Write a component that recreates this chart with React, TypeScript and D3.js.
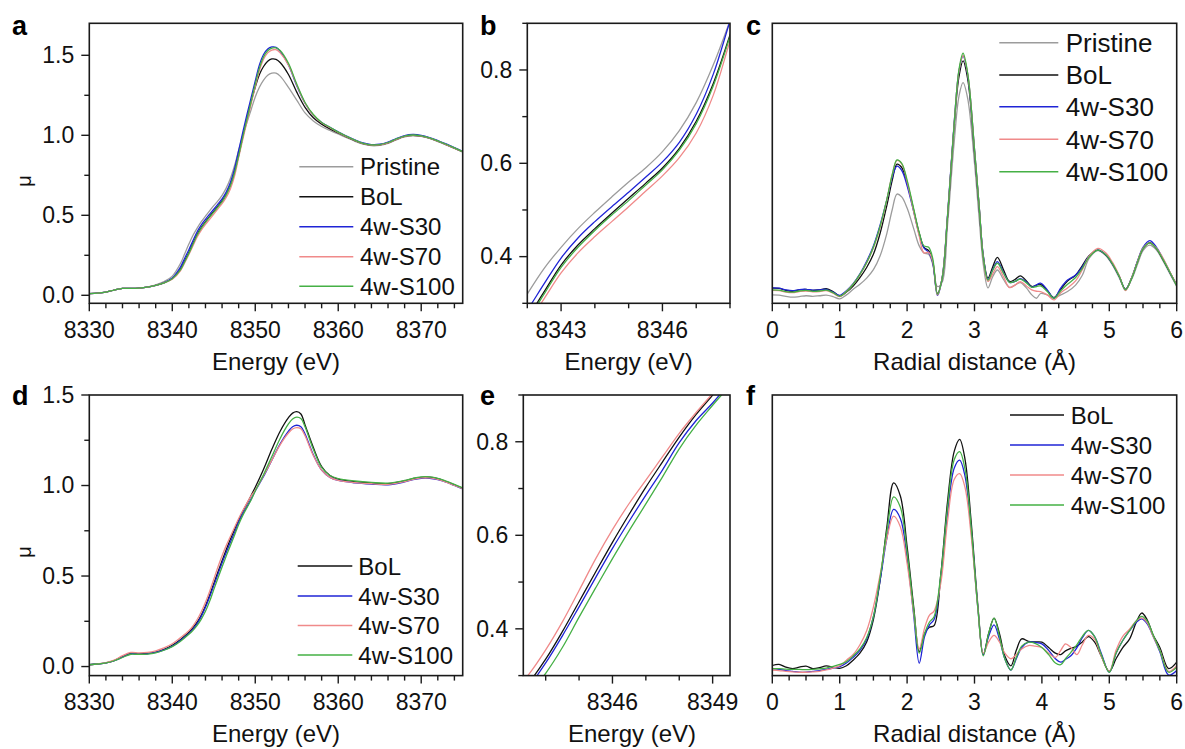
import React from 'react';
import * as d3 from 'd3';

// ---------- Series names & colours ----------
const NAMES = ['Pristine', 'BoL', '4w-S30', '4w-S70', '4w-S100'];
const COLORS: Record<string, string> = {
  'Pristine': '#9c9c9c',
  'BoL': '#111111',
  '4w-S30': '#1f24d6',
  '4w-S70': '#f08a8a',
  '4w-S100': '#45b045',
};

// ---------- Panel a / b : XANES (first set) ----------
const E_A = [8330, 8331, 8332, 8333, 8334, 8335, 8336, 8337, 8338, 8339, 8340, 8341,
  8341.5, 8342, 8342.5, 8343, 8343.5, 8344, 8344.5, 8345, 8345.5, 8346, 8346.5, 8347, 8347.5, 8348,
  8348.5, 8349, 8349.5, 8350, 8350.5, 8351, 8351.5, 8352, 8352.5, 8353,
  8354, 8355, 8356, 8357, 8358, 8359, 8360, 8361, 8362, 8363, 8364, 8365, 8366, 8367, 8368, 8369,
  8370, 8371, 8372, 8373, 8374, 8375];
const A_PRISTINE = [0.010, 0.013, 0.020, 0.033, 0.043, 0.043, 0.045, 0.052, 0.065, 0.085, 0.12, 0.2,
  0.26, 0.32, 0.375, 0.42, 0.46, 0.495, 0.528, 0.56, 0.59, 0.625, 0.67, 0.73, 0.81, 0.905,
  1.0, 1.08, 1.16, 1.24, 1.3, 1.345, 1.375, 1.388, 1.388, 1.37,
  1.3, 1.22, 1.14, 1.09, 1.055, 1.03, 1.008, 0.985, 0.963, 0.945, 0.935, 0.937, 0.95, 0.972, 0.99, 0.997,
  0.993, 0.98, 0.961, 0.94, 0.918, 0.895];
const A_BOL = [0.010, 0.013, 0.020, 0.033, 0.043, 0.043, 0.045, 0.051, 0.062, 0.078, 0.105, 0.165,
  0.215, 0.268, 0.325, 0.382, 0.425, 0.46, 0.493, 0.525, 0.557, 0.59, 0.632, 0.69, 0.77, 0.875,
  0.99, 1.1, 1.21, 1.3, 1.38, 1.43, 1.463, 1.477, 1.475, 1.455,
  1.38, 1.27, 1.175, 1.11, 1.07, 1.04, 1.015, 0.99, 0.967, 0.948, 0.938, 0.94, 0.953, 0.975, 0.993, 1.0,
  0.995, 0.982, 0.963, 0.942, 0.92, 0.897];
const A_S30 = [0.010, 0.013, 0.020, 0.033, 0.043, 0.043, 0.045, 0.051, 0.062, 0.079, 0.108, 0.178,
  0.232, 0.285, 0.342, 0.397, 0.44, 0.475, 0.507, 0.538, 0.57, 0.603, 0.645, 0.705, 0.79, 0.905,
  1.02, 1.13, 1.235, 1.34, 1.44, 1.505, 1.54, 1.552, 1.55, 1.525,
  1.44, 1.31, 1.2, 1.125, 1.08, 1.05, 1.022, 0.995, 0.972, 0.952, 0.942, 0.944, 0.958, 0.98, 0.998, 1.005,
  1.0, 0.986, 0.967, 0.946, 0.923, 0.9];
const A_S70 = [0.010, 0.013, 0.020, 0.033, 0.043, 0.043, 0.045, 0.051, 0.062, 0.077, 0.1, 0.155,
  0.203, 0.255, 0.31, 0.365, 0.408, 0.443, 0.475, 0.507, 0.54, 0.573, 0.612, 0.665, 0.745, 0.862,
  0.975, 1.085, 1.195, 1.305, 1.405, 1.475, 1.515, 1.533, 1.535, 1.515,
  1.44, 1.315, 1.2, 1.125, 1.078, 1.048, 1.018, 0.992, 0.968, 0.948, 0.938, 0.94, 0.953, 0.975, 0.993, 1.0,
  0.995, 0.982, 0.963, 0.942, 0.92, 0.897];
const A_S100 = [0.010, 0.013, 0.020, 0.033, 0.043, 0.043, 0.045, 0.051, 0.062, 0.077, 0.103, 0.16,
  0.21, 0.262, 0.32, 0.377, 0.42, 0.456, 0.489, 0.52, 0.553, 0.586, 0.628, 0.685, 0.765, 0.872,
  0.99, 1.1, 1.21, 1.32, 1.42, 1.49, 1.528, 1.545, 1.547, 1.53,
  1.45, 1.32, 1.205, 1.13, 1.08, 1.05, 1.02, 0.994, 0.97, 0.95, 0.94, 0.942, 0.955, 0.977, 0.995, 1.002,
  0.997, 0.984, 0.965, 0.944, 0.921, 0.898];

// ---------- Panel d / e : XANES (second set) ----------
const E_D = [8330, 8331, 8332, 8333, 8334, 8335, 8336, 8337, 8338, 8339, 8340, 8341, 8342,
  8342.5, 8343, 8343.5, 8344, 8344.5, 8345, 8345.5, 8346, 8346.5, 8347, 8347.5, 8348, 8348.5, 8349, 8349.5, 8350,
  8351, 8352, 8353, 8354, 8354.5, 8355, 8355.5,
  8356, 8357, 8358, 8359, 8360, 8362, 8364, 8366, 8368,
  8369, 8370, 8371, 8372, 8373, 8374, 8375];
const D_BOL = [0.01, 0.014, 0.02, 0.033, 0.055, 0.072, 0.07, 0.072, 0.08, 0.095, 0.118, 0.15, 0.19,
  0.215, 0.245, 0.285, 0.335, 0.394, 0.458, 0.522, 0.585, 0.645, 0.703, 0.757, 0.81, 0.858, 0.9, 0.945, 0.99,
  1.09, 1.2, 1.3, 1.375, 1.4, 1.408, 1.395,
  1.335, 1.21, 1.105, 1.055, 1.035, 1.022, 1.014, 1.01, 1.025,
  1.038, 1.045, 1.046, 1.038, 1.022, 1.004, 0.985];
const D_S30 = [0.01, 0.014, 0.02, 0.032, 0.052, 0.07, 0.068, 0.07, 0.078, 0.092, 0.113, 0.145, 0.183,
  0.207, 0.237, 0.277, 0.327, 0.385, 0.447, 0.51, 0.572, 0.63, 0.686, 0.74, 0.798, 0.845, 0.883, 0.925, 0.97,
  1.05, 1.14, 1.23, 1.3, 1.325, 1.333, 1.325,
  1.285, 1.17, 1.085, 1.045, 1.028, 1.015, 1.008, 1.004, 1.02,
  1.032, 1.04, 1.04, 1.032, 1.018, 1.0, 0.982];
const D_S70 = [0.01, 0.015, 0.022, 0.036, 0.06, 0.078, 0.076, 0.078, 0.087, 0.103, 0.126, 0.16, 0.198,
  0.225, 0.26, 0.303, 0.355, 0.415, 0.482, 0.55, 0.612, 0.668, 0.718, 0.768, 0.818, 0.862, 0.903, 0.943, 0.975,
  1.055, 1.14, 1.225, 1.29, 1.312, 1.32, 1.313,
  1.275, 1.165, 1.085, 1.045, 1.028, 1.016, 1.01, 1.006, 1.022,
  1.034, 1.042, 1.042, 1.034, 1.019, 1.0, 0.983];
const D_S100 = [0.01, 0.014, 0.02, 0.032, 0.05, 0.068, 0.067, 0.069, 0.076, 0.09, 0.11, 0.14, 0.178,
  0.2, 0.227, 0.262, 0.305, 0.36, 0.425, 0.488, 0.55, 0.61, 0.667, 0.725, 0.785, 0.835, 0.878, 0.92, 0.97,
  1.06, 1.16, 1.26, 1.34, 1.368, 1.378, 1.37,
  1.325, 1.2, 1.1, 1.055, 1.038, 1.025, 1.017, 1.013, 1.028,
  1.04, 1.048, 1.048, 1.04, 1.024, 1.006, 0.987];

// ---------- Panel c : FT-EXAFS (first set, relative magnitude) ----------
const R_C = [0, 0.1, 0.2, 0.3, 0.4, 0.5, 0.6, 0.7, 0.8, 0.9, 1.0,
  1.1, 1.2, 1.3, 1.4, 1.5, 1.6, 1.7,
  1.78, 1.85, 1.92, 2.0, 2.1, 2.18, 2.25, 2.32, 2.38, 2.45,
  2.52, 2.6, 2.7, 2.77, 2.83, 2.9, 3.0,
  3.07, 3.13, 3.2, 3.27, 3.34, 3.43, 3.52, 3.6, 3.68, 3.77, 3.85, 3.92, 3.98,
  4.08, 4.18, 4.28, 4.38, 4.5, 4.6, 4.7, 4.83, 4.95,
  5.05, 5.15, 5.24, 5.33, 5.42, 5.5, 5.6, 5.7, 5.8, 5.9, 6.0];
const C_PRISTINE = [0.03, 0.029, 0.025, 0.022, 0.024, 0.027, 0.025, 0.027, 0.029, 0.024, 0.016,
  0.03, 0.05, 0.068, 0.09, 0.12, 0.17, 0.25,
  0.335, 0.39, 0.38, 0.34, 0.265, 0.205, 0.18, 0.175, 0.14, 0.06,
  0.075, 0.28, 0.58, 0.74, 0.788, 0.73, 0.5,
  0.3, 0.14, 0.055, 0.095, 0.119, 0.085, 0.057, 0.065, 0.074, 0.055, 0.03, 0.018, 0.035,
  0.03, 0.02, 0.03, 0.042, 0.065, 0.1, 0.16, 0.188, 0.17,
  0.135, 0.09, 0.05, 0.085, 0.14, 0.188, 0.208, 0.19, 0.15, 0.105, 0.06];
const C_BOL = [0.054, 0.053, 0.046, 0.043, 0.048, 0.05, 0.046, 0.048, 0.052, 0.042, 0.026,
  0.04, 0.062, 0.092, 0.128, 0.175, 0.25, 0.35,
  0.44, 0.497, 0.485, 0.43, 0.33, 0.25, 0.2, 0.188, 0.15, 0.035,
  0.09, 0.31, 0.64, 0.81, 0.866, 0.8, 0.54,
  0.34, 0.17, 0.09, 0.13, 0.164, 0.12, 0.078, 0.085, 0.098, 0.08, 0.06, 0.065, 0.068,
  0.045, 0.02, 0.05, 0.08, 0.1, 0.135, 0.17, 0.19, 0.172,
  0.14, 0.095, 0.05, 0.09, 0.15, 0.195, 0.217, 0.195, 0.155, 0.11, 0.065];
const C_S30 = [0.055, 0.054, 0.048, 0.045, 0.049, 0.05, 0.047, 0.048, 0.05, 0.04, 0.028,
  0.045, 0.07, 0.105, 0.15, 0.205, 0.28, 0.37,
  0.45, 0.49, 0.475, 0.42, 0.325, 0.245, 0.198, 0.182, 0.145, 0.028,
  0.09, 0.315, 0.65, 0.83, 0.883, 0.815, 0.55,
  0.345, 0.17, 0.085, 0.12, 0.149, 0.11, 0.075, 0.078, 0.088, 0.076, 0.058, 0.066, 0.072,
  0.048, 0.018, 0.055, 0.083, 0.101, 0.13, 0.168, 0.19, 0.173,
  0.14, 0.095, 0.048, 0.09, 0.152, 0.2, 0.224, 0.2, 0.158, 0.11, 0.065];
const C_S70 = [0.046, 0.045, 0.04, 0.038, 0.042, 0.044, 0.041, 0.042, 0.045, 0.036, 0.024,
  0.042, 0.068, 0.102, 0.145, 0.198, 0.272, 0.37,
  0.46, 0.51, 0.498, 0.435, 0.325, 0.24, 0.18, 0.182, 0.15, 0.03,
  0.09, 0.31, 0.645, 0.83, 0.885, 0.818, 0.55,
  0.345, 0.165, 0.078, 0.105, 0.131, 0.095, 0.056, 0.065, 0.077, 0.062, 0.048, 0.043, 0.042,
  0.03, 0.012, 0.038, 0.055, 0.08, 0.12, 0.168, 0.196, 0.18,
  0.145, 0.097, 0.045, 0.09, 0.15, 0.197, 0.215, 0.197, 0.16, 0.112, 0.065];
const C_S100 = [0.048, 0.047, 0.042, 0.04, 0.044, 0.046, 0.043, 0.044, 0.047, 0.038, 0.025,
  0.042, 0.068, 0.103, 0.145, 0.2, 0.275, 0.372,
  0.46, 0.512, 0.5, 0.44, 0.335, 0.252, 0.205, 0.2, 0.16, 0.033,
  0.088, 0.31, 0.645, 0.835, 0.893, 0.82, 0.55,
  0.345, 0.165, 0.083, 0.118, 0.143, 0.108, 0.075, 0.078, 0.086, 0.073, 0.057, 0.06, 0.062,
  0.042, 0.018, 0.045, 0.068, 0.092, 0.125, 0.165, 0.19, 0.173,
  0.14, 0.095, 0.048, 0.088, 0.148, 0.195, 0.215, 0.195, 0.155, 0.11, 0.062];

// ---------- Panel f : FT-EXAFS (second set, relative magnitude) ----------
const R_F = [0, 0.1, 0.2, 0.3, 0.4, 0.5, 0.6, 0.7, 0.8, 0.9, 1.0,
  1.1, 1.2, 1.3, 1.4, 1.5, 1.6, 1.7,
  1.8, 1.9, 2.0, 2.1, 2.18, 2.26, 2.33, 2.4, 2.5, 2.6,
  2.7, 2.78, 2.86, 2.95, 3.05, 3.13, 3.21, 3.29, 3.37, 3.45,
  3.54, 3.62, 3.7, 3.8, 3.9, 4.0, 4.1, 4.2, 4.28, 4.35,
  4.43, 4.52, 4.6, 4.69, 4.78, 4.88, 5.0, 5.1, 5.2, 5.3,
  5.4, 5.48, 5.56, 5.65, 5.75, 5.88, 6.0];
const F_BOL = [0.036, 0.04, 0.03, 0.025, 0.03, 0.034, 0.025, 0.028, 0.035, 0.03, 0.026,
  0.035, 0.055, 0.08, 0.12, 0.2, 0.34, 0.53,
  0.687, 0.64, 0.46, 0.24, 0.085, 0.15, 0.172, 0.178, 0.36, 0.62,
  0.8, 0.842, 0.77, 0.55, 0.25, 0.075, 0.15, 0.205, 0.15, 0.07,
  0.035, 0.09, 0.131, 0.122, 0.12, 0.119, 0.1, 0.08, 0.075, 0.088,
  0.097, 0.105, 0.12, 0.139, 0.12, 0.07, 0.015, 0.06, 0.1, 0.13,
  0.19, 0.223, 0.2, 0.145, 0.1, 0.025, 0.048];
const F_S30 = [0.025, 0.022, 0.018, 0.015, 0.012, 0.012, 0.015, 0.018, 0.022, 0.027, 0.032,
  0.045, 0.065, 0.09, 0.13, 0.21, 0.34, 0.49,
  0.592, 0.56, 0.42, 0.21, 0.044, 0.14, 0.18, 0.2, 0.35, 0.58,
  0.74, 0.768, 0.71, 0.52, 0.24, 0.075, 0.14, 0.181, 0.13, 0.06,
  0.02, 0.06, 0.1, 0.119, 0.118, 0.113, 0.09, 0.06, 0.048, 0.058,
  0.071, 0.1, 0.135, 0.161, 0.14, 0.08, 0.012, 0.08, 0.125, 0.16,
  0.19, 0.202, 0.185, 0.14, 0.085, 0.002, 0.018];
const F_S70 = [0.02, 0.018, 0.015, 0.013, 0.012, 0.012, 0.013, 0.015, 0.02, 0.027, 0.035,
  0.055, 0.075, 0.11, 0.16, 0.244, 0.36, 0.49,
  0.568, 0.53, 0.4, 0.22, 0.095, 0.17, 0.215, 0.23, 0.33, 0.55,
  0.7, 0.72, 0.67, 0.5, 0.24, 0.08, 0.12, 0.143, 0.12, 0.08,
  0.06, 0.075, 0.095, 0.107, 0.105, 0.1, 0.08, 0.065, 0.09, 0.113,
  0.1, 0.075, 0.11, 0.143, 0.13, 0.07, 0.015, 0.09, 0.14, 0.165,
  0.195, 0.206, 0.19, 0.14, 0.09, 0.015, 0.035];
const F_S100 = [0.025, 0.025, 0.023, 0.022, 0.022, 0.021, 0.022, 0.024, 0.027, 0.033, 0.04,
  0.05, 0.07, 0.095, 0.135, 0.21, 0.35, 0.515,
  0.637, 0.6, 0.44, 0.23, 0.08, 0.15, 0.19, 0.21, 0.36, 0.6,
  0.77, 0.798, 0.735, 0.53, 0.24, 0.07, 0.15, 0.205, 0.14, 0.06,
  0.02, 0.065, 0.105, 0.119, 0.115, 0.1, 0.075, 0.045, 0.039, 0.06,
  0.083, 0.11, 0.14, 0.161, 0.14, 0.075, 0.012, 0.08, 0.125, 0.16,
  0.195, 0.211, 0.195, 0.145, 0.09, 0.012, 0.03];

// ---------- Tick labels ----------
const TICKS_E_WIDE = [8330, 8340, 8350, 8360, 8370];
const TICKS_E_B = [8343, 8346];
const TICKS_E_E = [8346, 8349];
const TICKS_R = [0, 1, 2, 3, 4, 5, 6];
const TICKS_MU_A = [0, 0.5, 1.0, 1.5];
const TICKS_MU_ZOOM = [0.4, 0.6, 0.8];

const FONT = 'Liberation Sans, Arial, Helvetica, sans-serif';

type Series = { name: string; xs: number[]; ys: number[] };
type Legend = { x1: number; x2: number; tx: number; rows: number[]; size: number; names: string[] };
type PanelCfg = {
  key: string; label: [number, number];
  box: { l: number; r: number; t: number; b: number };
  xd: [number, number]; yd: [number, number];
  xMajor: number[]; xMinorStep: number; xMinorStart: number;
  yMajor: number[] | null; yMinorStep: number; yMinorStart: number; yFmt: (v: number) => string;
  xTitle: string; xTitleX?: number; yTitle?: [number, number];
  series: Series[]; legend?: Legend;
};

const mk = (xs: number[], arr: number[][], names: string[]): Series[] =>
  arr.map((ys, i) => ({ name: names[i], xs, ys }));

const PANELS: PanelCfg[] = [
  {
    key: 'a', label: [12, 34.5], box: { l: 89.3, r: 462.7, t: 23.3, b: 303.3 },
    xd: [8330, 8375], yd: [-0.05, 1.7], xMajor: TICKS_E_WIDE, xMinorStep: 2, xMinorStart: 8330,
    yMajor: TICKS_MU_A, yMinorStep: 0.25, yMinorStart: 0, yFmt: d3.format('.1f'),
    xTitle: 'Energy (eV)', yTitle: [31, 181],
    series: mk(E_A, [A_PRISTINE, A_BOL, A_S30, A_S70, A_S100], NAMES),
    legend: { x1: 299.3, x2: 353.3, tx: 360, rows: [166.7, 196.7, 226.7, 256.7, 286.3], size: 24, names: NAMES },
  },
  {
    key: 'b', label: [480, 34.5], box: { l: 527.3, r: 730, t: 23.3, b: 303.3 },
    xd: [8342, 8348], yd: [0.3, 0.9], xMajor: TICKS_E_B, xMinorStep: 1, xMinorStart: 8342,
    yMajor: TICKS_MU_ZOOM, yMinorStep: 0.1, yMinorStart: 0.3, yFmt: d3.format('.1f'),
    xTitle: 'Energy (eV)',
    series: mk(E_A, [A_PRISTINE, A_BOL, A_S30, A_S70, A_S100], NAMES),
  },
  {
    key: 'c', label: [746, 34.5], box: { l: 772.3, r: 1176.7, t: 23.3, b: 303.3 },
    xd: [0, 6], yd: [0, 1], xMajor: TICKS_R, xMinorStep: 0.25, xMinorStart: 0,
    yMajor: null, yMinorStep: 0, yMinorStart: 0, yFmt: d3.format('.1f'),
    xTitle: 'Radial distance (Å)',
    series: mk(R_C, [C_PRISTINE, C_BOL, C_S30, C_S70, C_S100], NAMES),
    legend: { x1: 999.3, x2: 1058.3, tx: 1065.7, rows: [42.7, 75, 106.7, 139.3, 171.7], size: 26, names: NAMES },
  },
  {
    key: 'd', label: [12, 405], box: { l: 89.3, r: 462.7, t: 395, b: 675.6 },
    xd: [8330, 8375], yd: [-0.05, 1.5], xMajor: TICKS_E_WIDE, xMinorStep: 2, xMinorStart: 8330,
    yMajor: TICKS_MU_A, yMinorStep: 0.25, yMinorStart: 0, yFmt: d3.format('.1f'),
    xTitle: 'Energy (eV)', yTitle: [31, 552],
    series: mk(E_D, [D_BOL, D_S30, D_S70, D_S100], NAMES.slice(1)),
    legend: { x1: 297.7, x2: 352.3, tx: 358.3, rows: [566, 596, 625.5, 655], size: 24, names: NAMES.slice(1) },
  },
  {
    key: 'e', label: [480, 405], box: { l: 523.3, r: 730, t: 395, b: 675.6 },
    xd: [8343.33, 8349.52], yd: [0.3, 0.9], xMajor: TICKS_E_E, xMinorStep: 1, xMinorStart: 8343,
    yMajor: TICKS_MU_ZOOM, yMinorStep: 0.1, yMinorStart: 0.3, yFmt: d3.format('.1f'),
    xTitle: 'Energy (eV)', xTitleX: 632,
    series: mk(E_D, [D_BOL, D_S30, D_S70, D_S100], NAMES.slice(1)),
  },
  {
    key: 'f', label: [746, 405], box: { l: 772.3, r: 1176.7, t: 395, b: 675.6 },
    xd: [0, 6], yd: [0, 1], xMajor: TICKS_R, xMinorStep: 0.25, xMinorStart: 0,
    yMajor: null, yMinorStep: 0, yMinorStart: 0, yFmt: d3.format('.1f'),
    xTitle: 'Radial distance (Å)',
    series: mk(R_F, [F_BOL, F_S30, F_S70, F_S100], NAMES.slice(1)),
    legend: { x1: 1010, x2: 1064, tx: 1070.7, rows: [415, 445, 475, 505], size: 24, names: NAMES.slice(1) },
  },
];

const AXIS = '#1a1a1a';

function minorTicks(start: number, step: number, d: [number, number], major: number[]): number[] {
  if (!step) return [];
  const out: number[] = [];
  for (let v = start; v <= d[1] + 1e-9; v += step) {
    const vv = Math.round(v * 1000) / 1000;
    if (vv < d[0] - 1e-9) continue;
    if (major.some((m) => Math.abs(m - vv) < 1e-6)) continue;
    out.push(vv);
  }
  return out;
}

function Panel({ cfg }: { cfg: PanelCfg }) {
  const { l, r, t, b } = cfg.box;
  const x = d3.scaleLinear().domain(cfg.xd).range([l, r]);
  const y = d3.scaleLinear().domain(cfg.yd).range([b, t]);
  const line = d3
    .line<[number, number]>()
    .x((d) => x(d[0]))
    .y((d) => y(d[1]))
    .curve(d3.curveCatmullRom.alpha(0.5));
  const clipId = `clip-${cfg.key}`;
  const xMinor = minorTicks(cfg.xMinorStart, cfg.xMinorStep, cfg.xd, cfg.xMajor);
  const yMinor = cfg.yMajor ? minorTicks(cfg.yMinorStart, cfg.yMinorStep, cfg.yd, cfg.yMajor) : [];
  const xMajor = cfg.xMajor.filter((v) => v >= cfg.xd[0] - 1e-9 && v <= cfg.xd[1] + 1e-9);
  return (
    <g>
      <defs>
        <clipPath id={clipId}>
          <rect x={l} y={t} width={r - l} height={b - t} />
        </clipPath>
      </defs>
      <g clipPath={`url(#${clipId})`}>
        {cfg.series.map((s) => (
          <path
            key={s.name}
            d={line(s.xs.map((v, i) => [v, s.ys[i]] as [number, number])) || ''}
            fill="none"
            stroke={COLORS[s.name]}
            strokeWidth={1.3}
            strokeLinejoin="round"
          />
        ))}
      </g>
      <rect x={l} y={t} width={r - l} height={b - t} fill="none" stroke={AXIS} strokeWidth={1.6} />
      {xMajor.map((v) => (
        <g key={`xM${v}`}>
          <line x1={x(v)} x2={x(v)} y1={b} y2={b + 8} stroke={AXIS} strokeWidth={1.4} />
          <text x={x(v)} y={b + 34.5} fontSize={23} fontFamily={FONT} textAnchor="middle" fill="#111">
            {String(v)}
          </text>
        </g>
      ))}
      {xMinor.map((v) => (
        <line key={`xm${v}`} x1={x(v)} x2={x(v)} y1={b} y2={b + 5} stroke={AXIS} strokeWidth={1.4} />
      ))}
      {cfg.yMajor &&
        cfg.yMajor.map((v) => (
          <g key={`yM${v}`}>
            <line x1={l - 8} x2={l} y1={y(v)} y2={y(v)} stroke={AXIS} strokeWidth={1.4} />
            <text x={l - 15} y={y(v) + 7.8} fontSize={23} fontFamily={FONT} textAnchor="end" fill="#111">
              {cfg.yFmt(v)}
            </text>
          </g>
        ))}
      {yMinor.map((v) => (
        <line key={`ym${v}`} x1={l - 5} x2={l} y1={y(v)} y2={y(v)} stroke={AXIS} strokeWidth={1.4} />
      ))}
      <text
        x={cfg.xTitleX ?? (l + r) / 2}
        y={b + 66.5}
        fontSize={24}
        fontFamily={FONT}
        textAnchor="middle"
        fill="#111"
      >
        {cfg.xTitle}
      </text>
      {cfg.yTitle && (
        <text
          transform={`translate(${cfg.yTitle[0]},${cfg.yTitle[1]}) rotate(-90)`}
          fontSize={20}
          fontFamily={FONT}
          textAnchor="middle"
          fill="#111"
        >
          μ
        </text>
      )}
      <text x={cfg.label[0]} y={cfg.label[1]} fontSize={27} fontWeight="bold" fontFamily={FONT} fill="#000">
        {cfg.key}
      </text>
      {cfg.legend &&
        cfg.legend.names.map((n, i) => (
          <g key={`lg${n}`}>
            <line
              x1={cfg.legend!.x1}
              x2={cfg.legend!.x2}
              y1={cfg.legend!.rows[i]}
              y2={cfg.legend!.rows[i]}
              stroke={COLORS[n]}
              strokeWidth={1.6}
            />
            <text
              x={cfg.legend!.tx}
              y={cfg.legend!.rows[i] + cfg.legend!.size * 0.355}
              fontSize={cfg.legend!.size}
              fontFamily={FONT}
              fill="#111"
            >
              {n}
            </text>
          </g>
        ))}
    </g>
  );
}

export default function App() {
  return (
    <svg
      width={1185}
      height={749}
      viewBox="0 0 1185 749"
      style={{ position: 'absolute', left: 0, top: 0, background: '#fff' }}
    >
      <rect x={0} y={0} width={1185} height={749} fill="#fff" />
      {PANELS.map((p) => (
        <Panel key={p.key} cfg={p} />
      ))}
    </svg>
  );
}
